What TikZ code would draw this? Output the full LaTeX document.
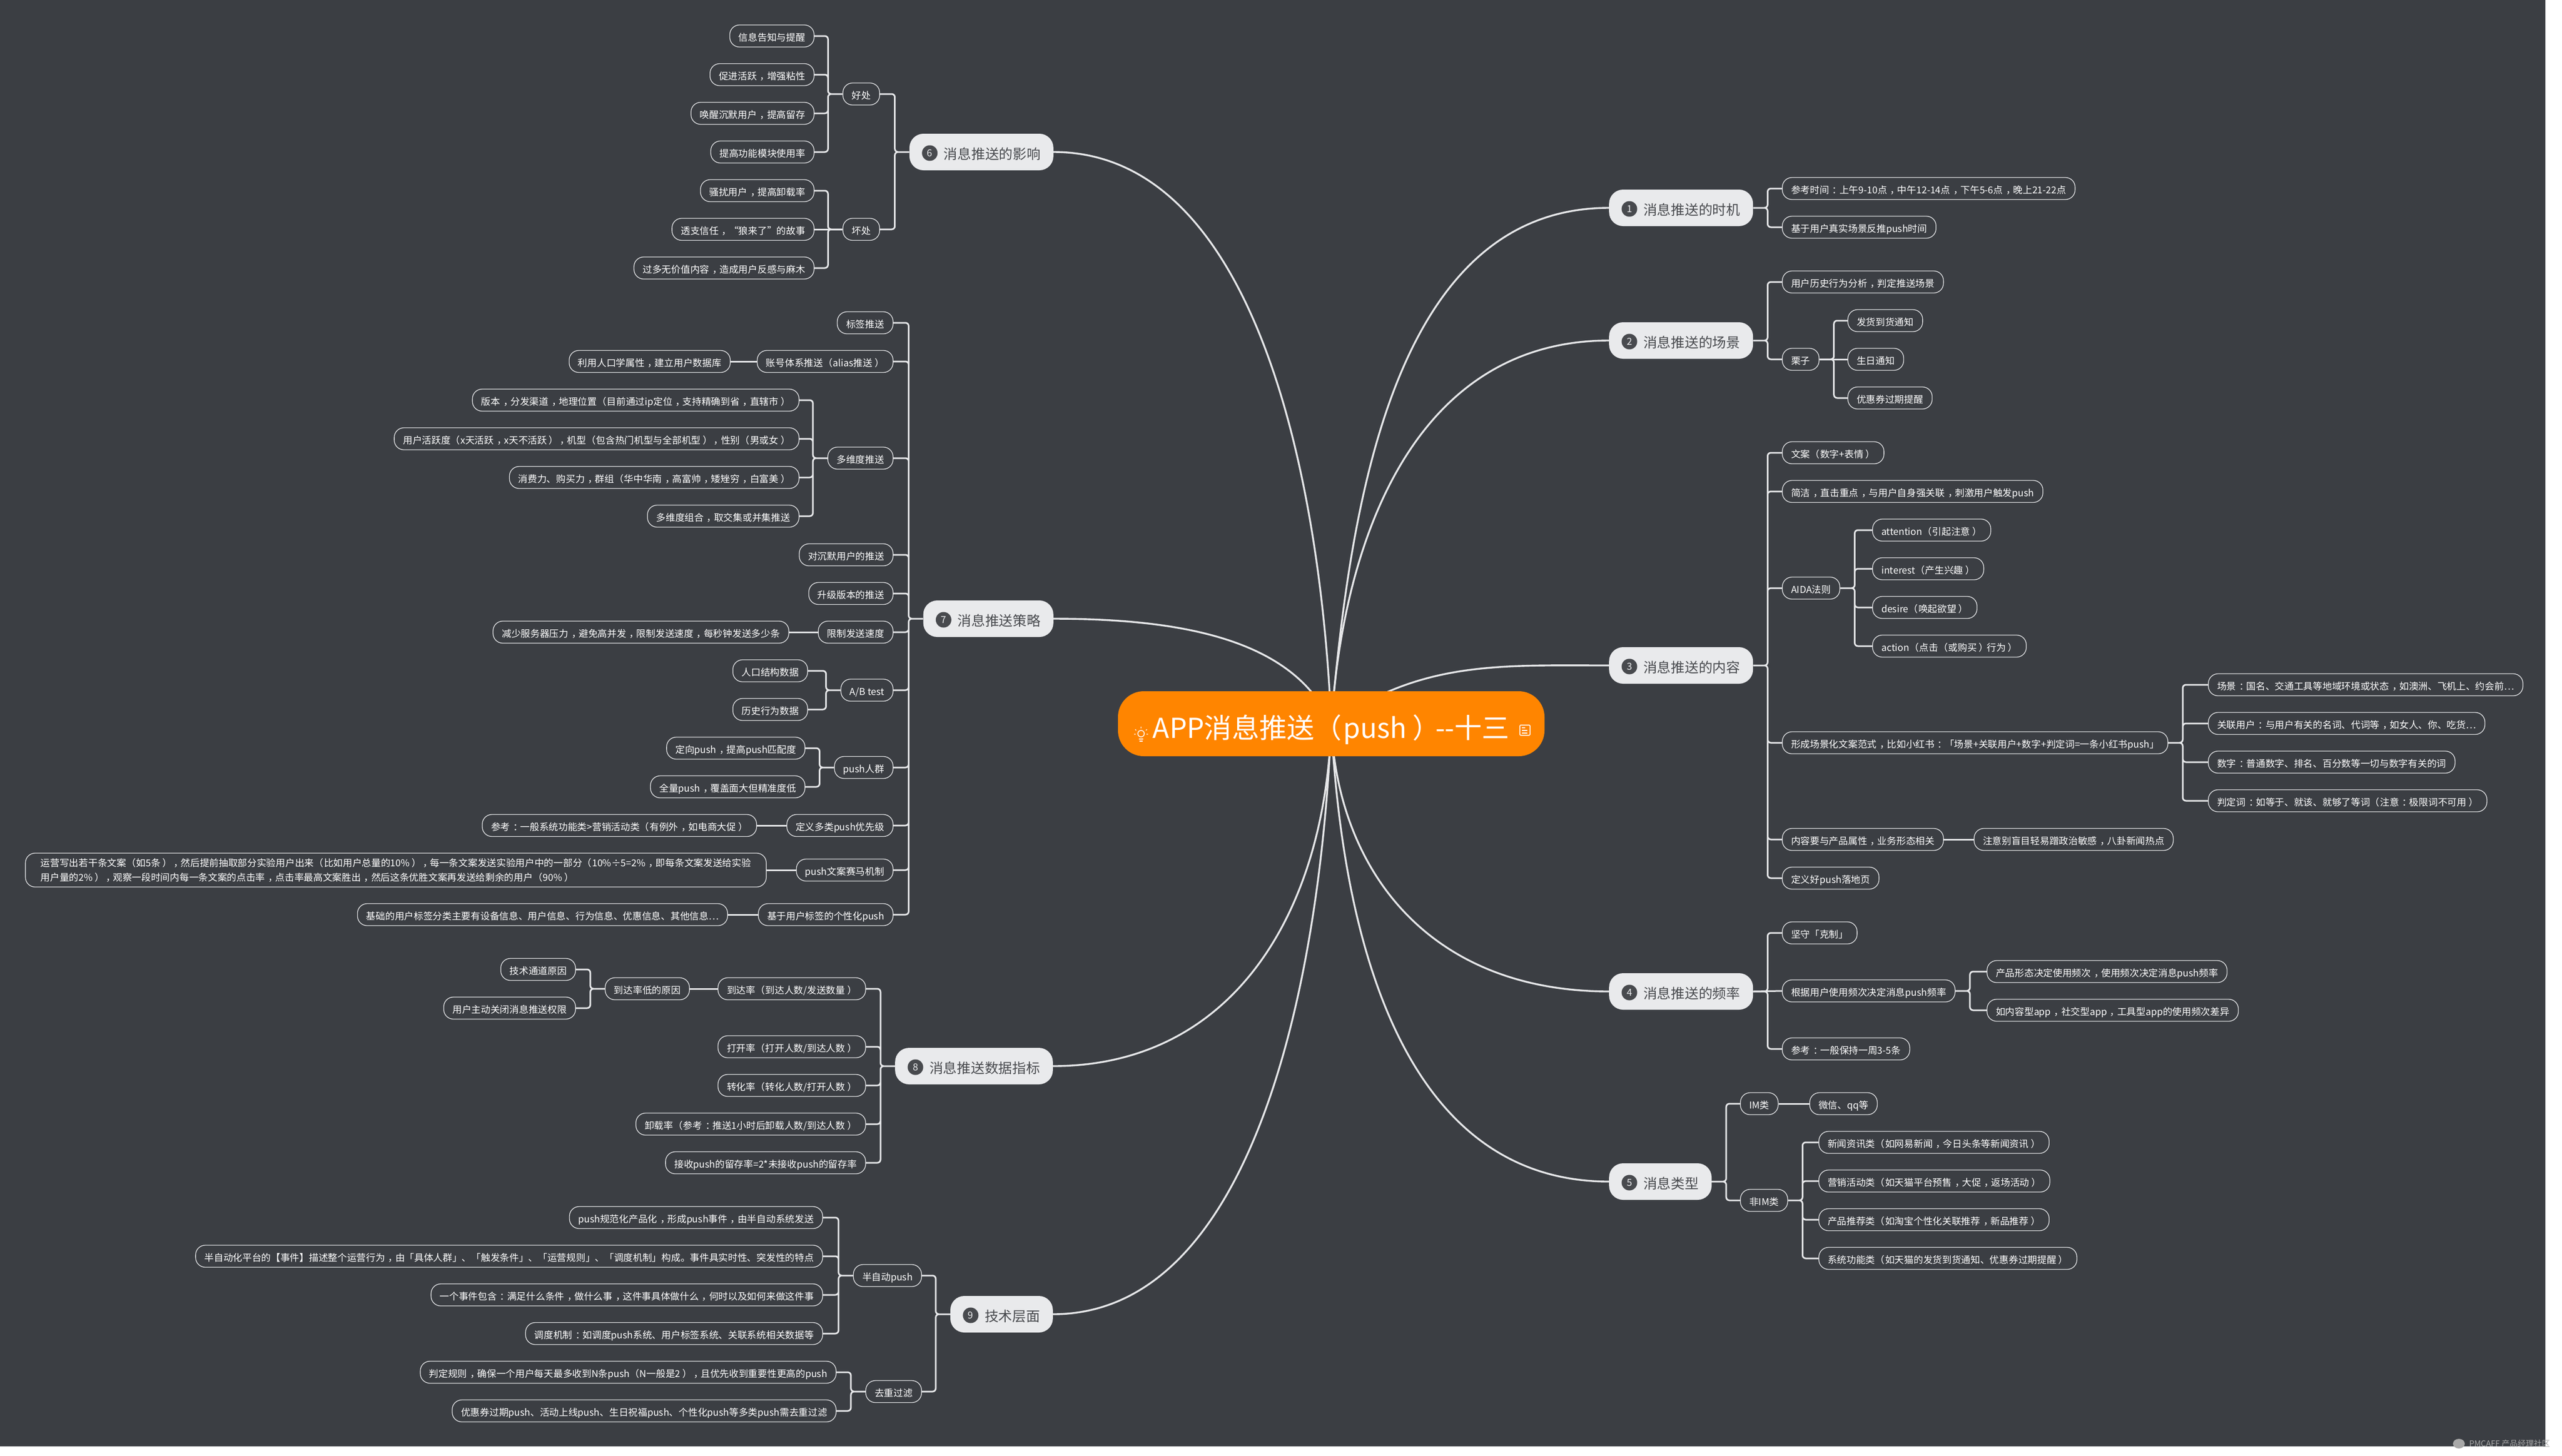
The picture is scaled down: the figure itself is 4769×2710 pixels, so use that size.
\documentclass[tikz,border=0pt]{standalone}
\usepackage{fontspec}
\setmainfont{Noto Sans CJK SC}
\usetikzlibrary{backgrounds,calc}
\definecolor{bgdark}{HTML}{3B3E43}
\definecolor{rootorange}{HTML}{FF8500}
\definecolor{mainfill}{HTML}{E9EAEC}
\definecolor{maintext}{HTML}{484A4E}
\definecolor{linegray}{HTML}{E6E7E9}
\definecolor{markgray}{HTML}{A8A8A8}
% full-width punctuation, set in the middle of its cell
\newcommand{\zc}{\hspace{.33em}\char"FF0C\relax\hspace{-.25em}}
\newcommand{\zm}{\hspace{.33em}\char"FF1A\relax\hspace{-.25em}}
\newcommand{\zl}{\char"FF08\relax\hspace{.05em}}
\newcommand{\zr}{\hspace{.22em}\char"FF09\relax\hspace{-.17em}}
\tikzset{
    rootnode/.style={fill=rootorange, text=white, rounded corners=48pt, minimum width=794pt, minimum height=121pt,
        text height=54pt, text depth=0pt, font=\fontsize{51.2pt}{60pt}\selectfont},
    mainnode/.style={fill=mainfill, text=maintext, rounded corners=26pt, minimum height=68pt, inner xsep=24pt, inner ysep=0pt,
        text height=27.6pt, text depth=0pt, font=\fontsize{25.7pt}{30pt}\selectfont, execute at begin node=\hspace{40pt}},
    numdot/.style={circle, fill=maintext, text=mainfill, minimum size=29pt, inner sep=0pt, font=\fontsize{18pt}{20pt}\selectfont},
    leaf/.style={draw=linegray, line width=1.3pt, text=white, rounded corners=18pt, minimum height=41pt, inner xsep=16.5pt, inner ysep=0pt,
        text height=19.4pt, text depth=0pt, font=\fontsize{17.7pt}{22pt}\selectfont},
    leafl/.style={leaf, anchor=east},
    leafr/.style={leaf, anchor=west},
    trunk/.style={draw=linegray, line width=3.4pt},
    branch/.style={draw=linegray, line width=3pt, rounded corners=6pt},
    elbowl/.style={to path={(\tikztostart) -- ++(-27,0) |- (\tikztotarget)}},
    elbowr/.style={to path={(\tikztostart) -- ++(27,0) |- (\tikztotarget)}},
}
\begin{document}
\begin{tikzpicture}[x=1pt, y=1pt]
    \useasboundingbox (0,0) rectangle (4769,-2710);

    % centre
    \node[rootnode] (root) at (2478,-1347.5) {APP消息推送\zl push\zr -{}-十三};

    % right side
    \node[mainnode, anchor=west] (m1) at (2995,-387) {消息推送的时机};
    \node[mainnode, anchor=west] (m2) at (2995,-634) {消息推送的场景};
    \node[mainnode, anchor=west] (m3) at (2995,-1239) {消息推送的内容};
    \node[mainnode, anchor=west] (m4) at (2995,-1846) {消息推送的频率};
    \node[mainnode, anchor=west] (m5) at (2995,-2200) {消息类型};
    % left side
    \node[mainnode, anchor=east] (m6) at (1961,-283) {消息推送的影响};
    \node[mainnode, anchor=east] (m7) at (1961,-1152) {消息推送策略};
    \node[mainnode, anchor=east] (m8) at (1960,-1985) {消息推送数据指标};
    \node[mainnode, anchor=east] (m9) at (1960,-2447) {技术层面};

    \node[numdot] (n1) at ($(m1.west)+(38,-2)$) {1};
    \node[numdot] (n2) at ($(m2.west)+(38,-2)$) {2};
    \node[numdot] (n3) at ($(m3.west)+(38,-2)$) {3};
    \node[numdot] (n4) at ($(m4.west)+(38,-2)$) {4};
    \node[numdot] (n5) at ($(m5.west)+(38,-2)$) {5};
    \node[numdot] (n6) at ($(m6.west)+(38,-2)$) {6};
    \node[numdot] (n7) at ($(m7.west)+(38,-2)$) {7};
    \node[numdot] (n8) at ($(m8.west)+(38,-2)$) {8};
    \node[numdot] (n9) at ($(m9.west)+(38,-2)$) {9};

    \begin{scope}[on background layer]
        \fill[bgdark] (0,0) rectangle (4738,-2693);
        \draw[trunk] (root.center) .. controls +(36,424) and +(-395,0) .. (m1.west);
        \draw[trunk] (root.center) .. controls +(25,377) and +(-344,0) .. (m2.west);
        \draw[trunk] (root.center) .. controls +(35:205) and +(-205,0) .. (m3.west);
        \draw[trunk] (root.center) .. controls +(11,-273) and +(-335,0) .. (m4.west);
        \draw[trunk] (root.center) .. controls +(-87:389) and +(-389,0) .. (m5.west);
        \draw[trunk] (root.center) .. controls +(-19,447) and +(379,0) .. (m6.east);
        \draw[trunk] (root.center) .. controls +(-69,157) and +(239,0) .. (m7.east);
        \draw[trunk] (root.center) .. controls +(-11,-349) and +(337,0) .. (m8.east);
        \draw[trunk] (root.center) .. controls +(-19,-462) and +(379,0) .. (m9.east);
    \end{scope}

    % 1
    \node[leafr] (m1a) at (3317,-351) {参考时间\zm 上午9-10点\zc 中午12-14点\zc 下午5-6点\zc 晚上21-22点};
    \node[leafr] (m1b) at (3317,-423) {基于用户真实场景反推push时间};
    \draw[branch, elbowr] (m1.east) to (m1a.west) (m1.east) to (m1b.west);

    % 2
    \node[leafr] (m2a) at (3317,-525) {用户历史行为分析\zc 判定推送场景};
    \node[leafr] (m2b) at (3317,-669) {栗子};
    \node[leafr] (m2b1) at (3439,-597) {发货到货通知};
    \node[leafr] (m2b2) at (3439,-669) {生日通知};
    \node[leafr] (m2b3) at (3439,-741) {优惠券过期提醒};
    \draw[branch, elbowr] (m2.east) to (m2a.west) (m2.east) to (m2b.west);
    \draw[branch, elbowr] (m2b.east) to (m2b1.west) (m2b.east) to (m2b3.west);
    \draw[branch] (m2b.east) -- (m2b2.west);

    % 3
    \node[leafr] (m3a) at (3317,-843) {文案\zl 数字+表情\zr};
    \node[leafr] (m3b) at (3317,-915) {简洁\zc 直击重点\zc 与用户自身强关联\zc 刺激用户触发push};
    \node[leafr] (m3c) at (3317,-1095) {AIDA法则};
    \node[leafr] (m3c1) at (3485,-987) {attention\zl 引起注意\zr};
    \node[leafr] (m3c2) at (3485,-1059) {interest\zl 产生兴趣\zr};
    \node[leafr] (m3c3) at (3485,-1131) {desire\zl 唤起欲望\zr};
    \node[leafr] (m3c4) at (3485,-1203) {action\zl 点击\zl 或购买\zr 行为\zr};
    \node[leafr] (m3d) at (3317,-1383) {形成场景化文案范式\zc 比如小红书\zm 「场景+关联用户+数字+判定词=一条小红书push」};
    \node[leafr] (m3d1) at (4110,-1275) {场景\zm 国名、交通工具等地域环境或状态\zc 如澳洲、飞机上、约会前…};
    \node[leafr] (m3d2) at (4110,-1347) {关联用户\zm 与用户有关的名词、代词等\zc 如女人、你、吃货…};
    \node[leafr] (m3d3) at (4110,-1419) {数字\zm 普通数字、排名、百分数等一切与数字有关的词};
    \node[leafr] (m3d4) at (4110,-1491) {判定词\zm 如等于、就该、就够了等词\zl 注意\zm 极限词不可用\zr};
    \node[leafr] (m3e) at (3317,-1563) {内容要与产品属性\zc 业务形态相关};
    \node[leafr] (m3e1) at (3674,-1563) {注意别盲目轻易蹭政治敏感\zc 八卦新闻热点};
    \node[leafr] (m3f) at (3317,-1635) {定义好push落地页};
    \draw[branch, elbowr] (m3.east) to (m3a.west) (m3.east) to (m3b.west) (m3.east) to (m3c.west)
        (m3.east) to (m3d.west) (m3.east) to (m3e.west) (m3.east) to (m3f.west);
    \draw[branch, elbowr] (m3c.east) to (m3c1.west) (m3c.east) to (m3c2.west) (m3c.east) to (m3c3.west) (m3c.east) to (m3c4.west);
    \draw[branch, elbowr] (m3d.east) to (m3d1.west) (m3d.east) to (m3d2.west) (m3d.east) to (m3d3.west) (m3d.east) to (m3d4.west);
    \draw[branch] (m3e.east) -- (m3e1.west);

    % 4
    \node[leafr] (m4a) at (3317,-1737) {坚守「克制」};
    \node[leafr] (m4b) at (3317,-1845) {根据用户使用频次决定消息push频率};
    \node[leafr] (m4b1) at (3698,-1809) {产品形态决定使用频次\zc 使用频次决定消息push频率};
    \node[leafr] (m4b2) at (3698,-1881) {如内容型app\zc 社交型app\zc 工具型app的使用频次差异};
    \node[leafr] (m4c) at (3317,-1953) {参考\zm 一般保持一周3-5条};
    \draw[branch, elbowr] (m4.east) to (m4a.west) (m4.east) to (m4c.west);
    \draw[branch] (m4.east) -- (m4b.west);
    \draw[branch, elbowr] (m4b.east) to (m4b1.west) (m4b.east) to (m4b2.west);

    % 5
    \node[leafr] (m5a) at (3239,-2055) {IM类};
    \node[leafr] (m5a1) at (3368,-2055) {微信、qq等};
    \node[leafr] (m5b) at (3239,-2235) {非IM类};
    \node[leafr] (m5b1) at (3385,-2127) {新闻资讯类\zl 如网易新闻\zc 今日头条等新闻资讯\zr};
    \node[leafr] (m5b2) at (3385,-2199) {营销活动类\zl 如天猫平台预售\zc 大促\zc 返场活动\zr};
    \node[leafr] (m5b3) at (3385,-2271) {产品推荐类\zl 如淘宝个性化关联推荐\zc 新品推荐\zr};
    \node[leafr] (m5b4) at (3385,-2343) {系统功能类\zl 如天猫的发货到货通知、优惠券过期提醒\zr};
    \draw[branch, elbowr] (m5.east) to (m5a.west) (m5.east) to (m5b.west);
    \draw[branch] (m5a.east) -- (m5a1.west);
    \draw[branch, elbowr] (m5b.east) to (m5b1.west) (m5b.east) to (m5b2.west) (m5b.east) to (m5b3.west) (m5b.east) to (m5b4.west);

    % 6
    \node[leafl] (m6a) at (1638,-175) {好处};
    \node[leafl] (m6a1) at (1516,-67) {信息告知与提醒};
    \node[leafl] (m6a2) at (1516,-139) {促进活跃\zc 增强粘性};
    \node[leafl] (m6a3) at (1516,-211) {唤醒沉默用户\zc 提高留存};
    \node[leafl] (m6a4) at (1516,-283) {提高功能模块使用率};
    \node[leafl] (m6b) at (1638,-427) {坏处};
    \node[leafl] (m6b1) at (1516,-355) {骚扰用户\zc 提高卸载率};
    \node[leafl] (m6b2) at (1516,-427) {透支信任\zc “狼来了”的故事};
    \node[leafl] (m6b3) at (1516,-499) {过多无价值内容\zc 造成用户反感与麻木};
    \draw[branch, elbowl] (m6.west) to (m6a.east) (m6.west) to (m6b.east);
    \draw[branch, elbowl] (m6a.west) to (m6a1.east) (m6a.west) to (m6a2.east) (m6a.west) to (m6a3.east) (m6a.west) to (m6a4.east);
    \draw[branch, elbowl] (m6b.west) to (m6b1.east) (m6b.west) to (m6b3.east);
    \draw[branch] (m6b.west) -- (m6b2.east);

    % 7
    \node[leafl] (m7a) at (1663,-601) {标签推送};
    \node[leafl] (m7b) at (1663,-673) {账号体系推送\zl alias推送\zr};
    \node[leafl] (m7b1) at (1360,-673) {利用人口学属性\zc 建立用户数据库};
    \node[leafl] (m7c) at (1663,-853) {多维度推送};
    \node[leafl] (m7c1) at (1488,-745) {版本\zc 分发渠道\zc 地理位置\zl 目前通过ip定位\zc 支持精确到省\zc 直辖市\zr};
    \node[leafl] (m7c2) at (1488,-817) {用户活跃度\zl x天活跃\zc x天不活跃\zr\zc 机型\zl 包含热门机型与全部机型\zr\zc 性别\zl 男或女\zr};
    \node[leafl] (m7c3) at (1488,-889) {消费力、购买力\zc 群组\zl 华中华南\zc 高富帅\zc 矮矬穷\zc 白富美\zr};
    \node[leafl] (m7c4) at (1488,-961) {多维度组合\zc 取交集或并集推送};
    \node[leafl] (m7d) at (1663,-1033) {对沉默用户的推送};
    \node[leafl] (m7e) at (1663,-1105) {升级版本的推送};
    \node[leafl] (m7f) at (1663,-1177) {限制发送速度};
    \node[leafl] (m7f1) at (1469,-1177) {减少服务器压力\zc 避免高并发\zc 限制发送速度\zc 每秒钟发送多少条};
    \node[leafl] (m7g) at (1663,-1285) {A/B test};
    \node[leafl] (m7g1) at (1504,-1249) {人口结构数据};
    \node[leafl] (m7g2) at (1504,-1321) {历史行为数据};
    \node[leafl] (m7h) at (1663,-1429) {push人群};
    \node[leafl] (m7h1) at (1499,-1393) {定向push\zc 提高push匹配度};
    \node[leafl] (m7h2) at (1499,-1465) {全量push\zc 覆盖面大但精准度低};
    \node[leafl] (m7i) at (1663,-1537) {定义多类push优先级};
    \node[leafl] (m7i1) at (1409,-1537) {参考\zm 一般系统功能类>营销活动类\zl 有例外\zc 如电商大促\zr};
    \node[leafl] (m7j) at (1663,-1620) {push文案赛马机制};
    \node[leafl, align=left, minimum width=1379pt, minimum height=63pt, text height=, text depth=, font=\fontsize{17.7pt}{27pt}\selectfont] (m7j1) at (1427,-1620) {运营写出若干条文案\zl 如5条\zr\zc 然后提前抽取部分实验用户出来\zl 比如用户总量的10\%\zr\zc 每一条文案发送实验用户中的一部分\zl 10\%÷5=2\%\zc 即每条文案发送给实验\\用户量的2\%\zr\zc 观察一段时间内每一条文案的点击率\zc 点击率最高文案胜出\zc 然后这条优胜文案再发送给剩余的用户\zl 90\%\zr};
    \node[leafl] (m7k) at (1663,-1703) {基于用户标签的个性化push};
    \node[leafl] (m7k1) at (1355,-1703) {基础的用户标签分类主要有设备信息、用户信息、行为信息、优惠信息、其他信息…};
    \draw[branch, elbowl] (m7.west) to (m7a.east) (m7.west) to (m7b.east) (m7.west) to (m7c.east) (m7.west) to (m7d.east)
        (m7.west) to (m7e.east) (m7.west) to (m7f.east) (m7.west) to (m7g.east) (m7.west) to (m7h.east)
        (m7.west) to (m7i.east) (m7.west) to (m7j.east) (m7.west) to (m7k.east);
    \draw[branch] (m7b.west) -- (m7b1.east);
    \draw[branch, elbowl] (m7c.west) to (m7c1.east) (m7c.west) to (m7c2.east) (m7c.west) to (m7c3.east) (m7c.west) to (m7c4.east);
    \draw[branch] (m7f.west) -- (m7f1.east);
    \draw[branch, elbowl] (m7g.west) to (m7g1.east) (m7g.west) to (m7g2.east);
    \draw[branch, elbowl] (m7h.west) to (m7h1.east) (m7h.west) to (m7h2.east);
    \draw[branch] (m7i.west) -- (m7i1.east);
    \draw[branch] (m7j.west) -- (m7j1.east);
    \draw[branch] (m7k.west) -- (m7k1.east);

    % 8
    \node[leafl] (m8a) at (1612,-1841) {到达率\zl 到达人数/发送数量\zr};
    \node[leafl] (m8a1) at (1284,-1841) {到达率低的原因};
    \node[leafl] (m8a11) at (1072,-1805) {技术通道原因};
    \node[leafl] (m8a12) at (1072,-1877) {用户主动关闭消息推送权限};
    \node[leafl] (m8b) at (1612,-1949) {打开率\zl 打开人数/到达人数\zr};
    \node[leafl] (m8c) at (1612,-2021) {转化率\zl 转化人数/打开人数\zr};
    \node[leafl] (m8d) at (1612,-2093) {卸载率\zl 参考\zm 推送1小时后卸载人数/到达人数\zr};
    \node[leafl] (m8e) at (1612,-2165) {接收push的留存率=2*未接收push的留存率};
    \draw[branch, elbowl] (m8.west) to (m8a.east) (m8.west) to (m8b.east) (m8.west) to (m8c.east) (m8.west) to (m8d.east) (m8.west) to (m8e.east);
    \draw[branch] (m8a.west) -- (m8a1.east);
    \draw[branch, elbowl] (m8a1.west) to (m8a11.east) (m8a1.west) to (m8a12.east);

    % 9
    \node[leafl] (m9a) at (1716,-2375) {半自动push};
    \node[leafl] (m9a1) at (1532,-2267) {push规范化产品化\zc 形成push事件\zc 由半自动系统发送};
    \node[leafl] (m9a2) at (1532,-2339) {半自动化平台的【事件】描述整个运营行为\zc 由「具体人群」、「触发条件」、「运营规则」、「调度机制」构成。事件具实时性、突发性的特点};
    \node[leafl] (m9a3) at (1532,-2411) {一个事件包含\zm 满足什么条件\zc 做什么事\zc 这件事具体做什么\zc 何时以及如何来做这件事};
    \node[leafl] (m9a4) at (1532,-2483) {调度机制\zm 如调度push系统、用户标签系统、关联系统相关数据等};
    \node[leafl] (m9b) at (1716,-2591) {去重过滤};
    \node[leafl] (m9b1) at (1557,-2555) {判定规则\zc 确保一个用户每天最多收到N条push\zl N一般是2\zr\zc 且优先收到重要性更高的push};
    \node[leafl] (m9b2) at (1557,-2627) {优惠券过期push、活动上线push、生日祝福push、个性化push等多类push需去重过滤};
    \draw[branch, elbowl] (m9.west) to (m9a.east) (m9.west) to (m9b.east);
    \draw[branch, elbowl] (m9a.west) to (m9a1.east) (m9a.west) to (m9a2.east) (m9a.west) to (m9a3.east) (m9a.west) to (m9a4.east);
    \draw[branch, elbowl] (m9b.west) to (m9b1.east) (m9b.west) to (m9b2.east);

    % icons in the root node
    \draw[white, line width=1.5pt] (2124,-1366) circle (6pt);
    \draw[white, line width=1.5pt] (2120,-1376) -- (2128,-1376) (2121,-1380) -- (2127,-1380);
    \draw[white, line width=1.2pt] (2124,-1356) -- (2124,-1353) (2115,-1360) -- (2113,-1358) (2133,-1360) -- (2135,-1358) (2111,-1367) -- (2114,-1367) (2134,-1367) -- (2137,-1367);
    \draw[white, line width=1.5pt, rounded corners=1.5pt] (2829,-1350) rectangle (2848,-1369);
    \draw[white, line width=1.2pt] (2833,-1355) -- (2839,-1355) (2833,-1360) -- (2843,-1360) (2833,-1365) -- (2843,-1365);

    % watermark
    \fill[markgray] (4577,-2688) ellipse (11pt and 9pt);
    \node[text=markgray, anchor=west, inner sep=0pt, font=\fontsize{15pt}{18pt}\selectfont] (mark) at (4596,-2688) {PMCAFF 产品经理社区};
\end{tikzpicture}
\end{document}
